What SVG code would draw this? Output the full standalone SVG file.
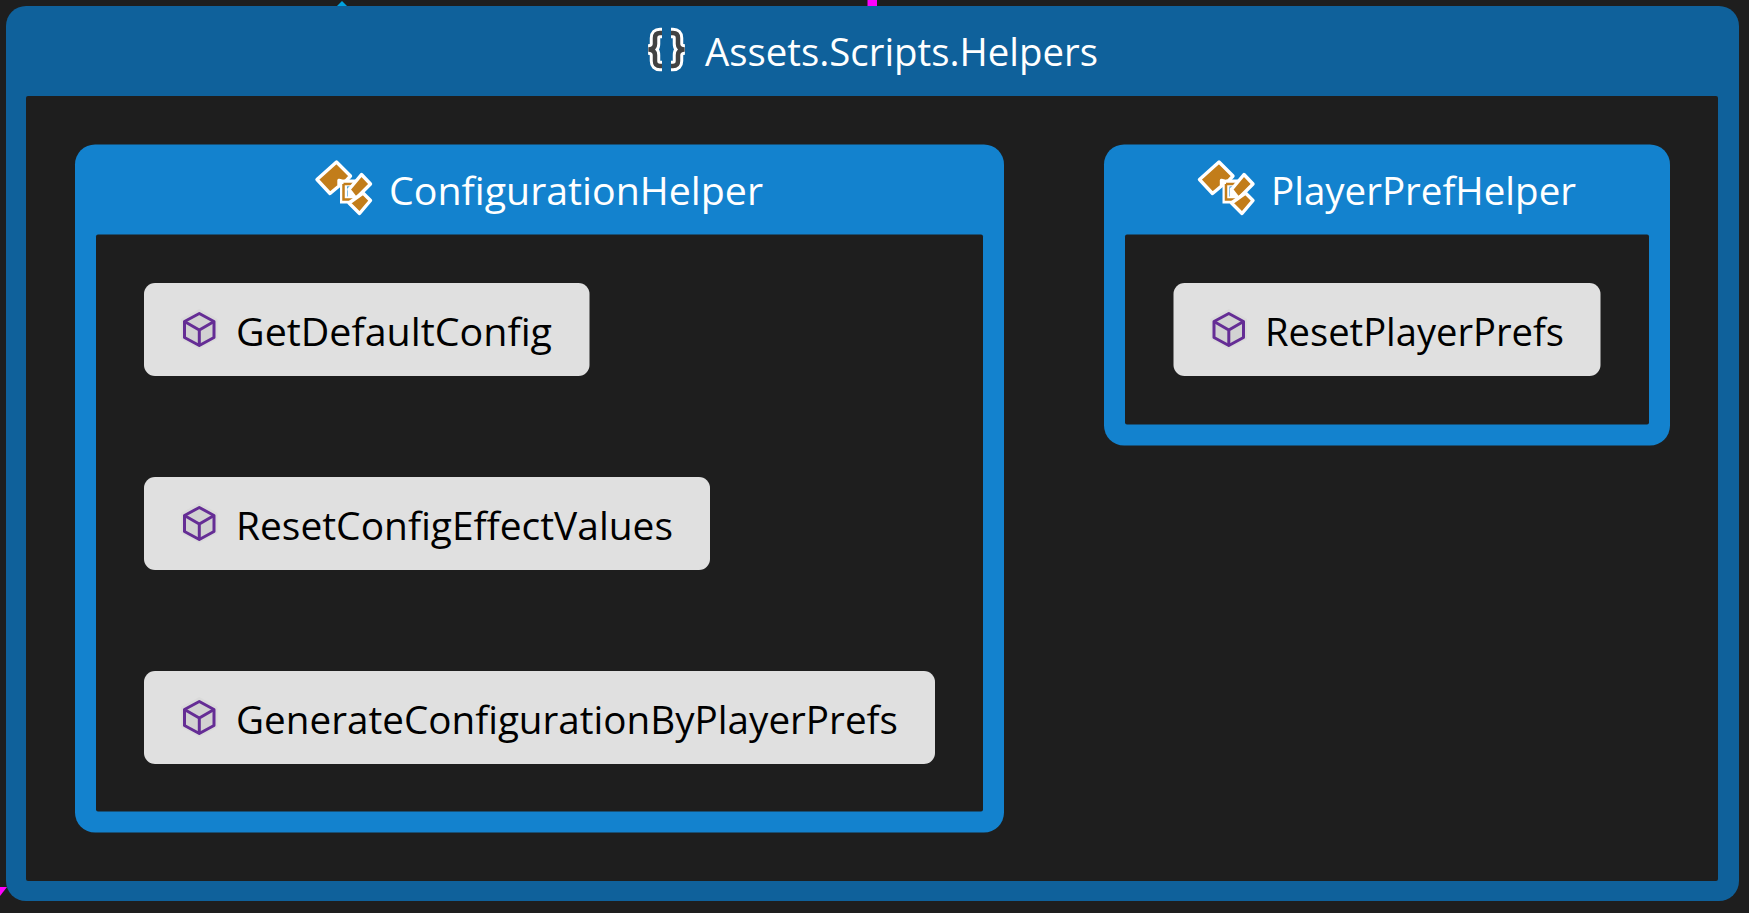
<svg xmlns="http://www.w3.org/2000/svg" width="1749" height="913" viewBox="0 0 1749 913">
<style>
.bg{fill:#1e1e1e}
.outer{fill:#0f619b}
.cls{fill:#1382ce}
.leaf{fill:#e0e0e0}
text{font-family:"Open Sans","Noto Sans","Liberation Sans",sans-serif;font-size:38.5px;font-weight:400}
.w{fill:#fff}
.k{fill:#000}
</style>
<defs>
<g id="typeIcon">
<path d="M336.500 162L350.500 176L345 182L339 180.500V186L330 193.500L317 179.500Z" fill="#c27d1a" stroke="#fff" stroke-width="3.400" stroke-linejoin="round"/>
<path d="M343.500 183H358M343.500 183V200H358" fill="none" stroke="#fff" stroke-width="7"/>
<path d="M343.500 184H356M343.500 184V199.500H357" fill="none" stroke="#c27d1a" stroke-width="2.500"/>
<path d="M347.500 187.500H356V198H347.500Z" fill="#fff"/>
<path d="M361.500 174.500L370.500 184L356 198.500L349 189.500Z" fill="#c27d1a" stroke="#fff" stroke-width="3.400" stroke-linejoin="round"/>
<path d="M363 193L370.500 200.500L359.500 213.500L349 203Z" fill="#c27d1a" stroke="#fff" stroke-width="3.400" stroke-linejoin="round"/>
</g>
<g id="methodIcon">
<path d="M199.300 309L217.500 319V339L199.300 349L181 339V319Z" fill="#dadada"/>
<path d="M199.300 313.500L214 321.500V337.500L199.300 345.500L184.500 337.500V321.500Z" fill="#d2d2d2" stroke="#652d95" stroke-width="3" stroke-linejoin="round"/>
<path d="M184.500 321.500L199.300 330L214 321.500M199.300 330V345.500" fill="none" stroke="#652d95" stroke-width="3"/>
</g>
<path id="braces" d="M662 33H660Q655 33 655 38V44Q655 49 648.500 49.500Q655 50 655 55V61Q655 66 660 66H662M671 33H673Q678 33 678 38V44Q678 49 684.500 49.500Q678 50 678 55V61Q678 66 673 66H671" fill="none"/>
</defs>
<rect class="bg" width="1749" height="913"/>
<g id="connectors">
<path d="M867.500 0H877V7H867.500Z" fill="#ff00ff"/>
<path d="M337 6L342 1L347 6Z" fill="#00a2e0"/>
<path d="M0 887H7L0 896Z" fill="#ff00ff"/>
</g>
<g id="namespace-helpers">
<rect class="outer" x="6" y="6" width="1733" height="895" rx="20"/>
<rect class="bg" x="26" y="96" width="1692" height="785" rx="2"/>
<use href="#braces" stroke="#fff" stroke-width="10.500"/>
<use href="#braces" stroke="#424242" stroke-width="4.500"/>
<text class="w" x="705" y="66" textLength="393" lengthAdjust="spacingAndGlyphs">Assets.Scripts.Helpers</text>
</g>
<g id="class-ConfigurationHelper">
<rect class="cls" x="75" y="144.500" width="929" height="688" rx="20"/>
<rect class="bg" x="96" y="234.500" width="887" height="577" rx="2"/>
<use href="#typeIcon"/>
<text class="w" x="389" y="205" textLength="374" lengthAdjust="spacingAndGlyphs">ConfigurationHelper</text>
</g>
<g id="method-GetDefaultConfig">
<rect class="leaf" x="144" y="283" width="445.500" height="93" rx="11"/>
<use href="#methodIcon"/>
<text class="k" x="236" y="346" textLength="316" lengthAdjust="spacingAndGlyphs">GetDefaultConfig</text>
</g>
<g id="method-ResetConfigEffectValues">
<rect class="leaf" x="144" y="477" width="566" height="93" rx="11"/>
<use href="#methodIcon" y="194"/>
<text class="k" x="236" y="540" textLength="437" lengthAdjust="spacingAndGlyphs">ResetConfigEffectValues</text>
</g>
<g id="method-GenerateConfigurationByPlayerPrefs">
<rect class="leaf" x="144" y="671" width="791" height="93" rx="11"/>
<use href="#methodIcon" y="388"/>
<text class="k" x="236" y="734" textLength="662" lengthAdjust="spacingAndGlyphs">GenerateConfigurationByPlayerPrefs</text>
</g>
<g id="class-PlayerPrefHelper">
<rect class="cls" x="1104" y="144.500" width="566" height="301" rx="20"/>
<rect class="bg" x="1125" y="234.500" width="524" height="190" rx="2"/>
<use href="#typeIcon" x="882.500"/>
<text class="w" x="1271" y="205" textLength="305" lengthAdjust="spacingAndGlyphs">PlayerPrefHelper</text>
</g>
<g id="method-ResetPlayerPrefs">
<rect class="leaf" x="1173.500" y="283" width="427" height="93" rx="11"/>
<use href="#methodIcon" x="1029.500"/>
<text class="k" x="1265" y="346" textLength="299" lengthAdjust="spacingAndGlyphs">ResetPlayerPrefs</text>
</g>
</svg>
